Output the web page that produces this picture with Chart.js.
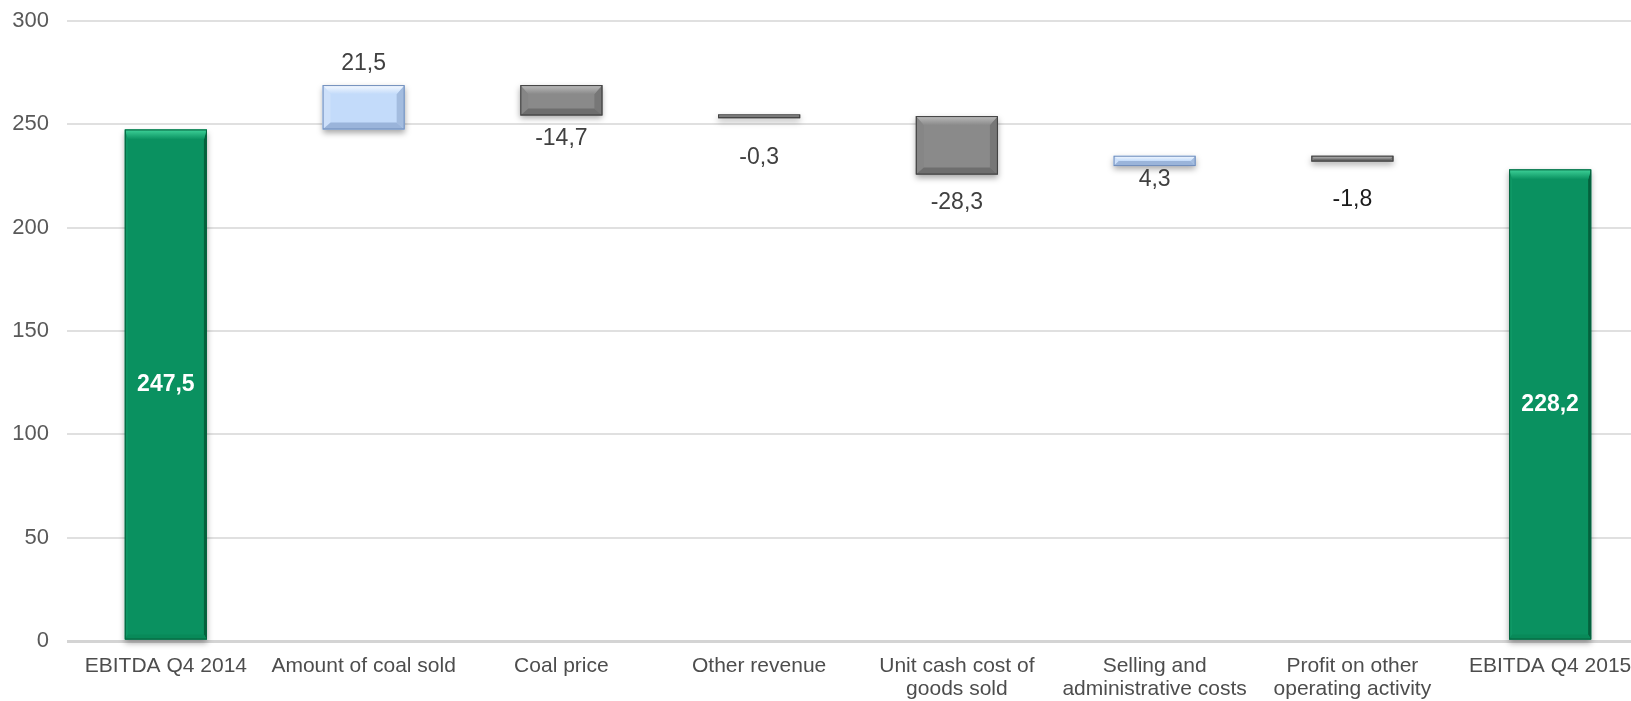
<!DOCTYPE html>
<html>
<head>
<meta charset="utf-8">
<title>EBITDA Q4 2014 - Q4 2015</title>
<script src="https://cdn.jsdelivr.net/npm/chart.js@4.4.0/dist/chart.umd.min.js"></script>
<style>
html, body { margin: 0; padding: 0; background: #fff; overflow: hidden; }
canvas { display: block; }
</style>
</head>
<body>
<canvas id="myChart" width="1650" height="701"></canvas>
<script>
// data
const categories = [
  ['EBITDA Q4 2014'],
  ['Amount of coal sold'],
  ['Coal price'],
  ['Other revenue'],
  ['Unit cash cost of', 'goods sold'],
  ['Selling and', 'administrative costs'],
  ['Profit on other', 'operating activity'],
  ['EBITDA Q4 2015']
];
const changes = [247.5, 21.5, -14.7, -0.3, -28.3, 4.3, -1.8, 228.2];
const barLow  = [0, 247.5, 254.3, 253.0, 225.7, 229.8, 232.0, 0];
const barHigh = [247.5, 269.0, 269.0, 254.8, 254.0, 234.8, 234.8, 228.2];
const barKind = ['total', 'up', 'down', 'down', 'down', 'up', 'down', 'total'];
const yTicks = [0, 50, 100, 150, 200, 250, 300];

// label placement: 'mid' = inside bar, 'top' = above bar, 'bottom' = below bar
const labelAnchor = ['mid', 'top', 'bottom', 'bottom', 'bottom', 'bottom', 'bottom', 'mid'];
const labelShift  = [0, 21, 23, 40, 28, 14, 38, 0];
const labelColor  = ['#fff', '#404040', '#404040', '#404040', '#404040', '#404040', '#1a1a1a', '#fff'];

const palette = {
  total: { fill: '#0a9160', top: '#3fd39a', bottom: '#088a59', left: '#0e9865', right: '#04603c', border: '#06633f', bt: 10, bb: 5, bs: 3 },
  up:    { fill: '#c3dbfa', top: '#f7fbff', bottom: '#9ab4da', left: '#cde0fa', right: '#a3bcdf', border: '#6f8dbb', bt: 9, bb: 7, bs: 8 },
  down:  { fill: '#8a8a8a', top: '#bdbdbd', bottom: '#6e6e6e', left: '#868686', right: '#777777', border: '#3f3f3f', bt: 9, bb: 7, bs: 8 }
};

function fmt(v) {
  return v.toFixed(1).replace('.', ',');
}

function poly(ctx, pts, color) {
  ctx.beginPath();
  ctx.moveTo(pts[0][0], pts[0][1]);
  for (let k = 1; k < pts.length; k++) ctx.lineTo(pts[k][0], pts[k][1]);
  ctx.closePath();
  ctx.fillStyle = color;
  ctx.fill();
}

function barBox(bar) {
  const x0 = bar.x - bar.width / 2, x1 = bar.x + bar.width / 2;
  const y0 = Math.min(bar.y, bar.base), y1 = Math.max(bar.y, bar.base);
  return { x0, x1, y0, y1 };
}

const bevelPlugin = {
  id: 'bevel',
  beforeDatasetsDraw(chart) {
    const ctx = chart.ctx;
    ctx.save();
    chart.getDatasetMeta(0).data.forEach(function (bar, i) {
      const p = palette[barKind[i]];
      const b = barBox(bar);
      ctx.shadowColor = 'rgba(0,0,0,0.35)';
      ctx.shadowBlur = 6;
      ctx.shadowOffsetY = 3;
      ctx.fillStyle = p.fill;
      ctx.fillRect(b.x0, b.y0, b.x1 - b.x0, b.y1 - b.y0);
    });
    ctx.restore();
  },
  afterDatasetsDraw(chart) {
    const ctx = chart.ctx;
    ctx.save();
    chart.getDatasetMeta(0).data.forEach(function (bar, i) {
      const p = palette[barKind[i]];
      const b = barBox(bar);
      const h = b.y1 - b.y0;
      const bt = Math.min(p.bt, h / 2), bb = Math.min(p.bb, h / 2), bs = Math.min(p.bs, h / 2);
      // sides
      poly(ctx, [[b.x0, b.y0], [b.x0 + bs, b.y0 + bt], [b.x0 + bs, b.y1 - bb], [b.x0, b.y1]], p.left);
      poly(ctx, [[b.x1, b.y0], [b.x1 - bs, b.y0 + bt], [b.x1 - bs, b.y1 - bb], [b.x1, b.y1]], p.right);
      // bottom
      poly(ctx, [[b.x0, b.y1], [b.x1, b.y1], [b.x1 - bs, b.y1 - bb], [b.x0 + bs, b.y1 - bb]], p.bottom);
      // top with a soft gradient
      const g = ctx.createLinearGradient(0, b.y0, 0, b.y0 + bt);
      g.addColorStop(0, p.top);
      g.addColorStop(1, p.fill);
      poly(ctx, [[b.x0, b.y0], [b.x1, b.y0], [b.x1 - bs, b.y0 + bt], [b.x0 + bs, b.y0 + bt]], g);
      ctx.strokeStyle = p.border;
      ctx.lineWidth = 1;
      ctx.strokeRect(b.x0 + 0.5, b.y0 + 0.5, b.x1 - b.x0 - 1, h - 1);
    });
    ctx.restore();
  },
  afterDraw(chart) {
    const ctx = chart.ctx;
    ctx.save();
    ctx.textAlign = 'center';
    ctx.textBaseline = 'middle';
    chart.getDatasetMeta(0).data.forEach(function (bar, i) {
      const b = barBox(bar);
      let y;
      if (labelAnchor[i] === 'mid') {
        y = (b.y0 + b.y1) / 2;
        ctx.font = 'bold 23px "Liberation Sans", Arial, sans-serif';
      } else {
        y = labelAnchor[i] === 'top' ? b.y0 - labelShift[i] : b.y1 + labelShift[i];
        ctx.font = '23px "Liberation Sans", Arial, sans-serif';
      }
      ctx.fillStyle = labelColor[i];
      ctx.fillText(fmt(changes[i]), bar.x, y);
    });
    ctx.restore();
  }
};

const ctx = document.getElementById('myChart');

new Chart(ctx, {
  type: 'bar',
  data: {
    labels: categories,
    datasets: [{
      data: barLow.map(function (lo, i) { return [lo, barHigh[i]]; }),
      backgroundColor: barKind.map(function (k) { return palette[k].fill; }),
      borderWidth: 0,
      barPercentage: 0.415,
      categoryPercentage: 1
    }]
  },
  options: {
    responsive: false,
    animation: false,
    layout: { padding: { top: 21, right: 1, left: 0, bottom: 0 } },
    plugins: {
      legend: { display: false },
      tooltip: { enabled: false }
    },
    scales: {
      x: {
        grid: { display: false, drawTicks: false },
        border: { display: false },
        ticks: {
          color: '#4d4d4d',
          padding: 14,
          maxRotation: 0,
          autoSkip: false,
          font: { family: '"Liberation Sans", Arial, sans-serif', size: 21, lineHeight: 1.1 }
        },
        afterFit: function (scale) { scale.height = 60; }
      },
      y: {
        min: 0,
        max: 300,
        afterBuildTicks: function (scale) {
          scale.ticks = yTicks.map(function (v) { return { value: v }; });
        },
        grid: {
          drawTicks: false,
          color: function (c) { return c.index === 0 ? '#d4d4d4' : '#e0e0e0'; },
          lineWidth: function (c) { return c.index === 0 ? 3 : 2; }
        },
        border: { display: false },
        ticks: {
          color: '#595959',
          padding: 18,
          font: { family: '"Liberation Sans", Arial, sans-serif', size: 22 }
        },
        afterFit: function (scale) {
          scale.width = 67;
          scale.paddingTop = 0;
          scale.paddingBottom = 0;
        }
      }
    }
  },
  plugins: [bevelPlugin]
});
</script>
</body>
</html>
